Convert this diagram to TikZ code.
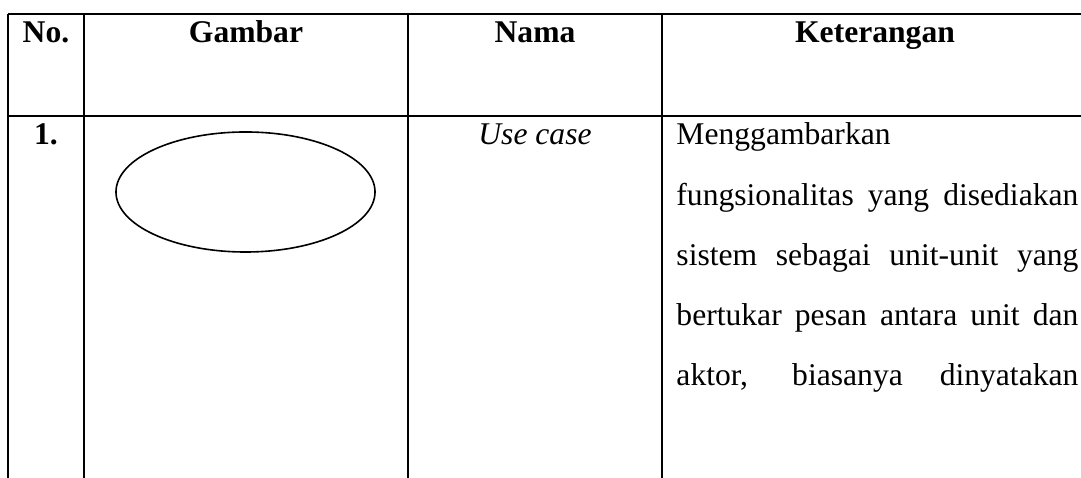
\documentclass[tikz,border=0pt]{standalone}
\usepackage{fontspec}
\setmainfont{Liberation Serif}
\usepackage{tikz}
\usetikzlibrary{shapes.geometric,positioning}

\tikzset{
  rule/.style={line width=0.75pt},
  head/.style={font=\fontsize{13.8}{16}\selectfont\bfseries, anchor=base, inner sep=0pt},
  cell/.style={anchor=base, inner sep=0pt},
  desc/.style={inner sep=0pt, text height=9pt, text depth=3pt},
  usecase/.style={draw, ellipse, line width=0.7pt, inner sep=0pt,
    minimum width=113.1pt, minimum height=52.4pt}
}

\begin{document}
\begin{tikzpicture}[x=0.4366pt,y=-0.4366pt,node distance=26.2pt,on grid,
    font=\fontsize{13.8}{16}\selectfont]
   \useasboundingbox (0,0) rectangle (1081,478);

   % table rules
   \draw[rule] (8,14) -- (1081,14);
   \draw[rule] (8,116) -- (1081,116);
   \draw[rule] (8,14) -- (8,478);
   \draw[rule] (84,14) -- (84,478);
   \draw[rule] (408,14) -- (408,478);
   \draw[rule] (662,14) -- (662,478);

   % header
   \node[head] (h_no)   at (46,43)  {No.};
   \node[head] (h_gbr)  at (246,43) {Gambar};
   \node[head] (h_nama) at (535,43) {Nama};
   \node[head] (h_ket)  at (875,43) {Keterangan};

   % row 1
   \node[head] (r_no)   at (46,145)  {1.};
   \node[usecase] (uc)  at (245.5,192) {};
   \node[cell] (r_nama) at (535,145) {\itshape Use case};

   \node[desc,anchor=base west] (k1) at (676,145)
      {\makebox[175.5pt][l]{Menggambarkan}};
   \node[desc](k2) [below=of k1] {\makebox[175.5pt][s]{fungsionalitas yang disediakan}};
   \node[desc](k3) [below=of k2] {\makebox[175.5pt][s]{sistem sebagai unit-unit yang}};
   \node[desc](k4) [below=of k3] {\makebox[175.5pt][s]{bertukar pesan antara unit dan}};
   \node[desc](k5) [below=of k4] {\makebox[175.5pt][s]{aktor, biasanya dinyatakan}};
\end{tikzpicture}
\end{document}
